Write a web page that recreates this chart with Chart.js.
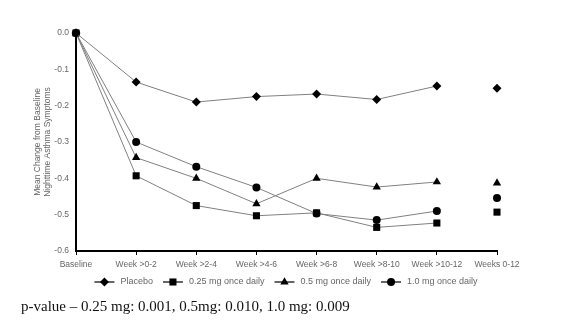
<!DOCTYPE html>
<html>
<head>
<meta charset="utf-8">
<script src="https://cdn.jsdelivr.net/npm/chart.js@4/dist/chart.umd.min.js"></script>
<style>
  body { margin: 0; background: #fff; }
  #wrap { position: relative; width: 562px; height: 330px; }
  #pval { position: absolute; left: 21px; top: 298px; font: 15px "Liberation Serif", serif; color: #111; white-space: nowrap; }
</style>
</head>
<body>
<div id="wrap">
  <canvas id="myChart" width="562" height="330"></canvas>
  <div id="pval">p-value – 0.25 mg: 0.001, 0.5mg: 0.010, 1.0 mg: 0.009</div>
</div>
<script>
// Categories and series values
const labels = ['Baseline', 'Week >0-2', 'Week >2-4', 'Week >4-6', 'Week >6-8', 'Week >8-10', 'Week >10-12', 'Weeks 0-12'];
const placebo = [0, -0.135, -0.19, -0.175, -0.168, -0.183, -0.146, -0.152];
const mg025 = [0, -0.393, -0.475, -0.503, -0.495, -0.535, -0.523, -0.493];
const mg05 = [0, -0.343, -0.40, -0.47, -0.40, -0.424, -0.41, -0.413];
const mg10 = [0, -0.30, -0.368, -0.425, -0.497, -0.515, -0.49, -0.454];
const yTicks = [0, -0.1, -0.2, -0.3, -0.4, -0.5, -0.6];

const seriesNames = ['Placebo', '0.25 mg once daily', '0.5 mg once daily', '1.0 mg once daily'];
const markers = ['rectRot', 'rect', 'triangle', 'circle'];
const radii = [4.5, 5, 4.8, 4];

// last point (Weeks 0-12) is a summary value, not joined by the line
function makeSet(name, values, i) {
    return {
        label: name,
        data: values,
        clip: false,
        borderColor: '#808080',
        borderWidth: 1,
        pointStyle: markers[i],
        pointRadius: radii[i],
        pointBackgroundColor: '#000',
        pointBorderColor: '#000',
        pointBorderWidth: 0,
        segment: {
            borderColor: ctx => ctx.p1DataIndex === labels.length - 1 ? 'rgba(0,0,0,0)' : '#808080'
        }
    };
}

// draws the legend as line + marker samples, like the original
const lineLegend = {
    id: 'lineLegend',
    afterDraw(chart) {
        const ctx = chart.ctx;
        const y = 282;
        ctx.save();
        ctx.font = '9px "Liberation Sans", Arial, sans-serif';
        const widths = seriesNames.map(n => 20 + 6 + ctx.measureText(n).width);
        const gap = 10;
        const total = widths.reduce((a, b) => a + b, 0) + gap * (widths.length - 1);
        let x = 286 - total / 2;
        seriesNames.forEach((name, i) => {
            ctx.strokeStyle = '#000';
            ctx.lineWidth = 1.2;
            ctx.beginPath();
            ctx.moveTo(x, y);
            ctx.lineTo(x + 20, y);
            ctx.stroke();
            ctx.fillStyle = '#000';
            Chart.helpers.drawPoint(ctx, { pointStyle: markers[i], radius: radii[i], borderWidth: 0, rotation: 0 }, x + 10, y);
            ctx.fillStyle = '#666';
            ctx.textBaseline = 'middle';
            ctx.fillText(name, x + 26, y);
            x += widths[i] + gap;
        });
        ctx.restore();
    }
};

const ctx = document.getElementById('myChart').getContext('2d');
const myChart = new Chart(ctx, {
    type: 'line',
    data: {
        labels: labels,
        datasets: [
            makeSet(seriesNames[0], placebo, 0),
            makeSet(seriesNames[1], mg025, 1),
            makeSet(seriesNames[2], mg05, 2),
            makeSet(seriesNames[3], mg10, 3)
        ]
    },
    options: {
        responsive: false,
        animation: false,
        layout: { padding: { left: 0, right: 65, top: 33, bottom: 57 } },
        plugins: {
            legend: { display: false },
            tooltip: { enabled: false }
        },
        scales: {
            x: {
                offset: false,
                afterFit: scale => { scale.height = 22; },
                grid: { drawOnChartArea: false, tickLength: 4, color: '#000', lineWidth: 1 },
                border: { color: '#000', width: 2 },
                ticks: {
                    color: '#666',
                    font: { family: '"Liberation Sans", Arial, sans-serif', size: 8.5 },
                    maxRotation: 0,
                    autoSkip: false,
                    padding: 5
                }
            },
            y: {
                min: -0.6,
                max: 0,
                afterFit: scale => { scale.width = 76; },
                afterBuildTicks: scale => { scale.ticks = yTicks.map(v => ({ value: v })); },
                grid: { display: false, drawTicks: false, tickLength: 0 },
                border: { color: '#000', width: 2 },
                ticks: {
                    color: '#666',
                    font: { family: '"Liberation Sans", Arial, sans-serif', size: 8.5 },
                    padding: 7,
                    callback: v => v.toFixed(1)
                },
                title: {
                    display: true,
                    text: ['Mean Change from Baseline', 'Nighttime Asthma Symptoms'],
                    color: '#666',
                    font: { family: '"Liberation Sans", Arial, sans-serif', size: 8.5, lineHeight: 1.15 },
                    padding: { top: 33, bottom: 0 }
                }
            }
        }
    },
    plugins: [lineLegend]
});
</script>
</body>
</html>
